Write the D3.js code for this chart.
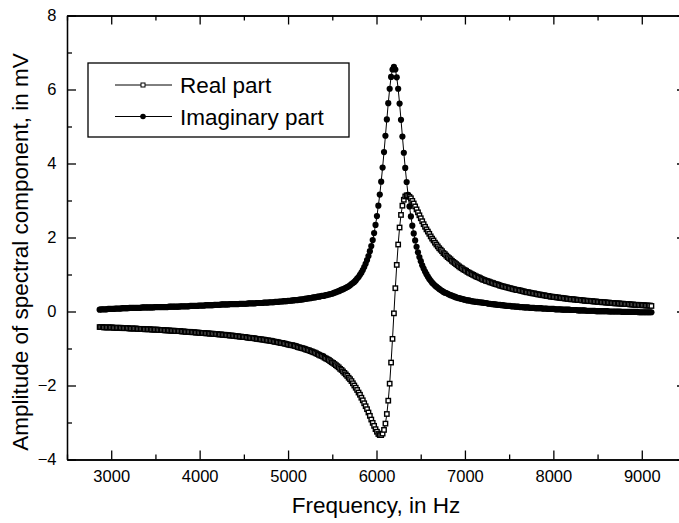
<!DOCTYPE html>
<html>
<head>
<meta charset="utf-8">
<script src="https://cdn.jsdelivr.net/npm/d3@7"></script>
<style>
  body { margin: 0; background: #fff; }
  svg { display: block; font-family: "Liberation Sans", Arial, Helvetica, sans-serif; }
  .axis path, .axis line { stroke: #000; stroke-width: 1.3; }
  .axis text { font-size: 16.5px; fill: #000; }
  .title { font-size: 22.5px; fill: #000; }
  .legendText { font-size: 22.5px; fill: #000; }
</style>
</head>
<body>
<div id="chart"></div>
<script>
// Frequency of each spectral line, in Hz
const frequency = [
  2869,2885,2901,2917,2933,2949,2965,2981,2997,3013,
  3029,3045,3061,3077,3093,3109,3125,3141,3157,3173,
  3189,3205,3221,3237,3253,3269,3285,3301,3317,3333,
  3349,3365,3381,3397,3413,3429,3445,3461,3477,3493,
  3509,3525,3541,3557,3573,3589,3605,3621,3637,3653,
  3669,3685,3701,3717,3733,3749,3765,3781,3797,3813,
  3829,3845,3861,3877,3893,3909,3925,3941,3957,3973,
  3989,4005,4021,4037,4053,4069,4085,4101,4117,4133,
  4149,4165,4181,4197,4213,4229,4245,4261,4277,4293,
  4309,4325,4341,4357,4373,4389,4405,4421,4437,4453,
  4469,4485,4501,4517,4533,4549,4565,4581,4597,4613,
  4629,4645,4661,4677,4693,4709,4725,4741,4757,4773,
  4789,4805,4821,4837,4853,4869,4885,4901,4917,4933,
  4949,4965,4981,4997,5013,5029,5045,5061,5077,5093,
  5109,5125,5141,5157,5173,5189,5205,5221,5237,5253,
  5269,5285,5301,5317,5333,5349,5365,5381,5397,5413,
  5429,5445,5461,5477,5493,5509,5525,5541,5557,5573,
  5589,5605,5621,5637,5653,5669,5685,5701,5717,5733,
  5749,5765,5781,5797,5813,5829,5845,5861,5877,5893,
  5909,5925,5941,5957,5973,5989,6005,6021,6037,6053,
  6069,6085,6101,6117,6133,6149,6165,6181,6197,6213,
  6229,6245,6261,6277,6293,6309,6325,6341,6357,6373,
  6389,6405,6421,6437,6453,6469,6485,6501,6517,6533,
  6549,6565,6581,6597,6613,6629,6645,6661,6677,6693,
  6709,6725,6741,6757,6773,6789,6805,6821,6837,6853,
  6869,6885,6901,6917,6933,6949,6965,6981,6997,7013,
  7029,7045,7061,7077,7093,7109,7125,7141,7157,7173,
  7189,7205,7221,7237,7253,7269,7285,7301,7317,7333,
  7349,7365,7381,7397,7413,7429,7445,7461,7477,7493,
  7509,7525,7541,7557,7573,7589,7605,7621,7637,7653,
  7669,7685,7701,7717,7733,7749,7765,7781,7797,7813,
  7829,7845,7861,7877,7893,7909,7925,7941,7957,7973,
  7989,8005,8021,8037,8053,8069,8085,8101,8117,8133,
  8149,8165,8181,8197,8213,8229,8245,8261,8277,8293,
  8309,8325,8341,8357,8373,8389,8405,8421,8437,8453,
  8469,8485,8501,8517,8533,8549,8565,8581,8597,8613,
  8629,8645,8661,8677,8693,8709,8725,8741,8757,8773,
  8789,8805,8821,8837,8853,8869,8885,8901,8917,8933,
  8949,8965,8981,8997,9013,9029,9045,9061,9077,9093,
  9109
];

// Real part, in mV
const realPart = [
  -0.42,-0.42,-0.42,-0.43,-0.43,-0.43,-0.43,-0.43,-0.43,-0.43,
  -0.44,-0.44,-0.44,-0.44,-0.44,-0.44,-0.45,-0.45,-0.45,-0.45,
  -0.45,-0.46,-0.46,-0.46,-0.46,-0.46,-0.46,-0.47,-0.47,-0.47,
  -0.47,-0.47,-0.48,-0.48,-0.48,-0.48,-0.48,-0.49,-0.49,-0.49,
  -0.49,-0.49,-0.50,-0.50,-0.50,-0.50,-0.51,-0.51,-0.51,-0.51,
  -0.52,-0.52,-0.52,-0.52,-0.53,-0.53,-0.53,-0.53,-0.54,-0.54,
  -0.54,-0.55,-0.55,-0.55,-0.55,-0.56,-0.56,-0.56,-0.57,-0.57,
  -0.57,-0.58,-0.58,-0.58,-0.58,-0.59,-0.59,-0.59,-0.60,-0.60,
  -0.60,-0.61,-0.61,-0.61,-0.62,-0.62,-0.62,-0.63,-0.63,-0.63,
  -0.64,-0.64,-0.65,-0.65,-0.65,-0.66,-0.66,-0.67,-0.67,-0.68,
  -0.68,-0.69,-0.69,-0.69,-0.70,-0.71,-0.71,-0.72,-0.72,-0.72,
  -0.73,-0.74,-0.74,-0.75,-0.75,-0.76,-0.76,-0.77,-0.78,-0.78,
  -0.79,-0.79,-0.80,-0.81,-0.82,-0.82,-0.83,-0.84,-0.85,-0.85,
  -0.86,-0.87,-0.88,-0.89,-0.90,-0.91,-0.91,-0.92,-0.93,-0.94,
  -0.96,-0.97,-0.98,-0.99,-1.00,-1.01,-1.03,-1.04,-1.05,-1.07,
  -1.08,-1.10,-1.11,-1.13,-1.15,-1.17,-1.19,-1.20,-1.22,-1.25,
  -1.27,-1.29,-1.31,-1.34,-1.37,-1.39,-1.42,-1.45,-1.48,-1.51,
  -1.55,-1.58,-1.62,-1.66,-1.70,-1.74,-1.79,-1.83,-1.88,-1.94,
  -2.00,-2.06,-2.12,-2.19,-2.25,-2.33,-2.40,-2.48,-2.56,-2.64,
  -2.73,-2.82,-2.92,-3.01,-3.09,-3.18,-3.25,-3.31,-3.34,-3.34,
  -3.30,-3.20,-3.03,-2.77,-2.41,-1.95,-1.38,-0.74,-0.05,0.63,
  1.26,1.81,2.27,2.61,2.86,3.02,3.11,3.14,3.13,3.10,
  3.06,2.99,2.92,2.84,2.76,2.68,2.60,2.52,2.44,2.36,
  2.29,2.22,2.16,2.10,2.03,1.97,1.92,1.86,1.81,1.76,
  1.71,1.67,1.63,1.58,1.55,1.51,1.47,1.44,1.41,1.37,
  1.34,1.31,1.28,1.25,1.22,1.19,1.17,1.14,1.12,1.10,
  1.07,1.05,1.03,1.01,0.99,0.97,0.95,0.93,0.92,0.90,
  0.88,0.86,0.85,0.83,0.82,0.81,0.79,0.78,0.77,0.75,
  0.74,0.73,0.72,0.70,0.69,0.68,0.67,0.66,0.65,0.64,
  0.63,0.62,0.61,0.60,0.59,0.58,0.58,0.57,0.56,0.55,
  0.54,0.53,0.52,0.52,0.51,0.50,0.49,0.49,0.48,0.47,
  0.46,0.46,0.45,0.44,0.44,0.43,0.42,0.42,0.41,0.40,
  0.40,0.39,0.39,0.38,0.38,0.37,0.37,0.36,0.36,0.35,
  0.35,0.34,0.34,0.33,0.33,0.33,0.32,0.32,0.31,0.31,
  0.31,0.30,0.30,0.29,0.29,0.29,0.28,0.28,0.28,0.27,
  0.27,0.27,0.26,0.26,0.26,0.25,0.25,0.25,0.24,0.24,
  0.24,0.23,0.23,0.23,0.22,0.22,0.22,0.22,0.21,0.21,
  0.21,0.20,0.20,0.20,0.20,0.19,0.19,0.19,0.18,0.18,
  0.18,0.18,0.17,0.17,0.17,0.17,0.16,0.16,0.16,0.16,
  0.15
];

// Imaginary part, in mV
const imaginaryPart = [
  0.05,0.06,0.06,0.06,0.06,0.06,0.07,0.07,0.07,0.07,
  0.07,0.08,0.08,0.08,0.08,0.08,0.09,0.09,0.09,0.09,
  0.09,0.10,0.10,0.10,0.10,0.10,0.10,0.10,0.10,0.10,
  0.11,0.11,0.11,0.11,0.11,0.11,0.11,0.11,0.11,0.12,
  0.12,0.12,0.12,0.12,0.12,0.12,0.12,0.12,0.12,0.13,
  0.13,0.13,0.13,0.13,0.13,0.13,0.13,0.14,0.14,0.14,
  0.14,0.14,0.14,0.14,0.15,0.15,0.15,0.15,0.15,0.15,
  0.16,0.16,0.16,0.16,0.16,0.17,0.17,0.17,0.17,0.17,
  0.17,0.18,0.18,0.18,0.18,0.18,0.19,0.19,0.19,0.19,
  0.19,0.19,0.20,0.20,0.20,0.20,0.20,0.20,0.20,0.21,
  0.21,0.21,0.21,0.21,0.21,0.22,0.22,0.22,0.22,0.22,
  0.22,0.23,0.23,0.23,0.23,0.23,0.24,0.24,0.24,0.24,
  0.25,0.25,0.25,0.25,0.26,0.26,0.26,0.27,0.27,0.27,
  0.28,0.28,0.28,0.29,0.29,0.29,0.30,0.30,0.31,0.31,
  0.31,0.32,0.32,0.33,0.33,0.34,0.35,0.35,0.36,0.36,
  0.37,0.38,0.38,0.39,0.40,0.40,0.41,0.42,0.42,0.43,
  0.44,0.45,0.46,0.47,0.48,0.49,0.51,0.52,0.54,0.55,
  0.57,0.59,0.60,0.62,0.64,0.66,0.68,0.71,0.74,0.77,
  0.80,0.84,0.89,0.93,0.99,1.05,1.12,1.20,1.29,1.39,
  1.50,1.63,1.77,1.93,2.12,2.34,2.58,2.86,3.16,3.51,
  3.89,4.31,4.75,5.19,5.63,6.02,6.34,6.54,6.61,6.54,
  6.33,6.02,5.62,5.18,4.73,4.29,3.88,3.50,3.15,2.84,
  2.57,2.32,2.11,1.92,1.75,1.60,1.47,1.36,1.25,1.16,
  1.08,1.01,0.94,0.88,0.83,0.78,0.74,0.70,0.67,0.64,
  0.61,0.58,0.56,0.53,0.51,0.50,0.48,0.46,0.44,0.43,
  0.41,0.40,0.38,0.37,0.36,0.35,0.34,0.33,0.32,0.31,
  0.30,0.30,0.29,0.28,0.27,0.27,0.26,0.26,0.25,0.25,
  0.24,0.24,0.23,0.23,0.22,0.21,0.21,0.20,0.20,0.19,
  0.19,0.18,0.18,0.18,0.17,0.17,0.16,0.16,0.15,0.15,
  0.15,0.14,0.14,0.14,0.13,0.13,0.13,0.12,0.12,0.12,
  0.11,0.11,0.11,0.11,0.10,0.10,0.10,0.10,0.09,0.09,
  0.09,0.09,0.09,0.08,0.08,0.08,0.08,0.07,0.07,0.07,
  0.07,0.07,0.06,0.06,0.06,0.06,0.06,0.05,0.05,0.05,
  0.05,0.05,0.05,0.04,0.04,0.04,0.04,0.04,0.03,0.03,
  0.03,0.03,0.03,0.03,0.02,0.02,0.02,0.02,0.02,0.02,
  0.02,0.01,0.01,0.01,0.01,0.01,0.01,0.01,0.01,0.01,
  0.00,0.00,0.00,0.00,0.00,0.00,0.00,0.00,0.00,-0.01,
  -0.01,-0.01,-0.01,-0.01,-0.01,-0.01,-0.01,-0.01,-0.01,-0.01,
  -0.01,-0.02,-0.02,-0.02,-0.02,-0.02,-0.02,-0.02,-0.02,-0.02,
  -0.02
];

const xMajorTicks = [3000, 4000, 5000, 6000, 7000, 8000, 9000];
const xMinorTicks = [2500, 3500, 4500, 5500, 6500, 7500, 8500, 9500];
const yMajorTicks = [-4, -2, 0, 2, 4, 6, 8];
const yMinorTicks = [-3, -1, 1, 3, 5, 7];
const seriesNames = ['Real part', 'Imaginary part'];

const W = 679, H = 523;
const margin = { top: 15.5, left: 67, right: -7, bottom: 63.5 };
const width = W - margin.left - margin.right,
    height = H - margin.top - margin.bottom;

const svg = d3.select('#chart')
    .append('svg')
    .attr('width', W)
    .attr('height', H);

svg.append('rect')
    .attr('width', W)
    .attr('height', H)
    .attr('fill', '#fff');

const g = svg.append('g')
    .attr('transform', 'translate(' + margin.left + ',' + margin.top + ')');

const xScale = d3.scaleLinear().domain([2500, 9500]).range([0, width]);
const yScale = d3.scaleLinear().domain([-4, 8]).range([height, 0]);

// Major and minor ticks, all pointing inside the frame
function addAxis(axis, ticks, size, transform, labels) {
    return g.append('g')
        .attr('class', 'axis')
        .attr('transform', transform)
        .call(axis.tickValues(ticks)
            .tickSizeInner(-size)
            .tickSizeOuter(0)
            .tickPadding(labels ? 10.5 : 0)
            .tickFormat(labels ? d3.format('d') : ''));
}

addAxis(d3.axisBottom(xScale), xMajorTicks, 9, 'translate(0,' + height + ')', true);
addAxis(d3.axisBottom(xScale), xMinorTicks, 5, 'translate(0,' + height + ')', false);
addAxis(d3.axisTop(xScale), xMajorTicks, 9, 'translate(0,0)', false);
addAxis(d3.axisTop(xScale), xMinorTicks, 5, 'translate(0,0)', false);
addAxis(d3.axisLeft(yScale), yMajorTicks, 9, 'translate(0,0)', true);
addAxis(d3.axisLeft(yScale), yMinorTicks, 5, 'translate(0,0)', false);
addAxis(d3.axisRight(yScale), yMajorTicks, 9, 'translate(' + width + ',0)', false);

// Axis titles
svg.append('text')
    .attr('class', 'title')
    .attr('x', 376)
    .attr('y', 513)
    .attr('text-anchor', 'middle')
    .text('Frequency, in Hz');

svg.append('text')
    .attr('class', 'title')
    .attr('transform', 'translate(28,252) rotate(-90)')
    .attr('text-anchor', 'middle')
    .text('Amplitude of spectral component, in mV');

const realData = frequency.map((f, i) => [f, realPart[i]]);
const imagData = frequency.map((f, i) => [f, imaginaryPart[i]]);

const line = d3.line()
    .x(d => xScale(d[0]))
    .y(d => yScale(d[1]));

// Imaginary part: filled circles
g.append('path')
    .datum(imagData)
    .attr('fill', 'none')
    .attr('stroke', '#000')
    .attr('stroke-width', 1)
    .attr('d', line);

g.append('g')
    .selectAll('circle')
    .data(imagData)
    .enter()
    .append('circle')
    .attr('cx', d => xScale(d[0]))
    .attr('cy', d => yScale(d[1]))
    .attr('r', 3.1)
    .attr('fill', '#000');

// Real part: open squares
g.append('path')
    .datum(realData)
    .attr('fill', 'none')
    .attr('stroke', '#000')
    .attr('stroke-width', 1)
    .attr('d', line);

g.append('g')
    .selectAll('rect')
    .data(realData)
    .enter()
    .append('rect')
    .attr('x', d => xScale(d[0]) - 2.2)
    .attr('y', d => yScale(d[1]) - 2.2)
    .attr('width', 4.4)
    .attr('height', 4.4)
    .attr('fill', '#fff')
    .attr('stroke', '#000')
    .attr('stroke-width', 1.4);

// Legend
const legend = svg.append('g');
legend.append('rect')
    .attr('x', 88)
    .attr('y', 63)
    .attr('width', 261)
    .attr('height', 74)
    .attr('fill', '#fff')
    .attr('stroke', '#000')
    .attr('stroke-width', 1.3);

seriesNames.forEach((name, i) => {
    const ly = 85 + i * 31.5;
    legend.append('line')
        .attr('x1', 115).attr('x2', 172)
        .attr('y1', ly).attr('y2', ly)
        .attr('stroke', '#000')
        .attr('stroke-width', 1);
    if (i === 0) {
        legend.append('rect')
            .attr('x', 141).attr('y', ly - 2)
            .attr('width', 4).attr('height', 4)
            .attr('fill', '#fff')
            .attr('stroke', '#000')
            .attr('stroke-width', 1);
    } else {
        legend.append('circle')
            .attr('cx', 143).attr('cy', ly)
            .attr('r', 2.8)
            .attr('fill', '#000');
    }
    legend.append('text')
        .attr('class', 'legendText')
        .attr('x', 180)
        .attr('y', ly)
        .attr('dy', '0.36em')
        .text(name);
});
</script>
</body>
</html>
